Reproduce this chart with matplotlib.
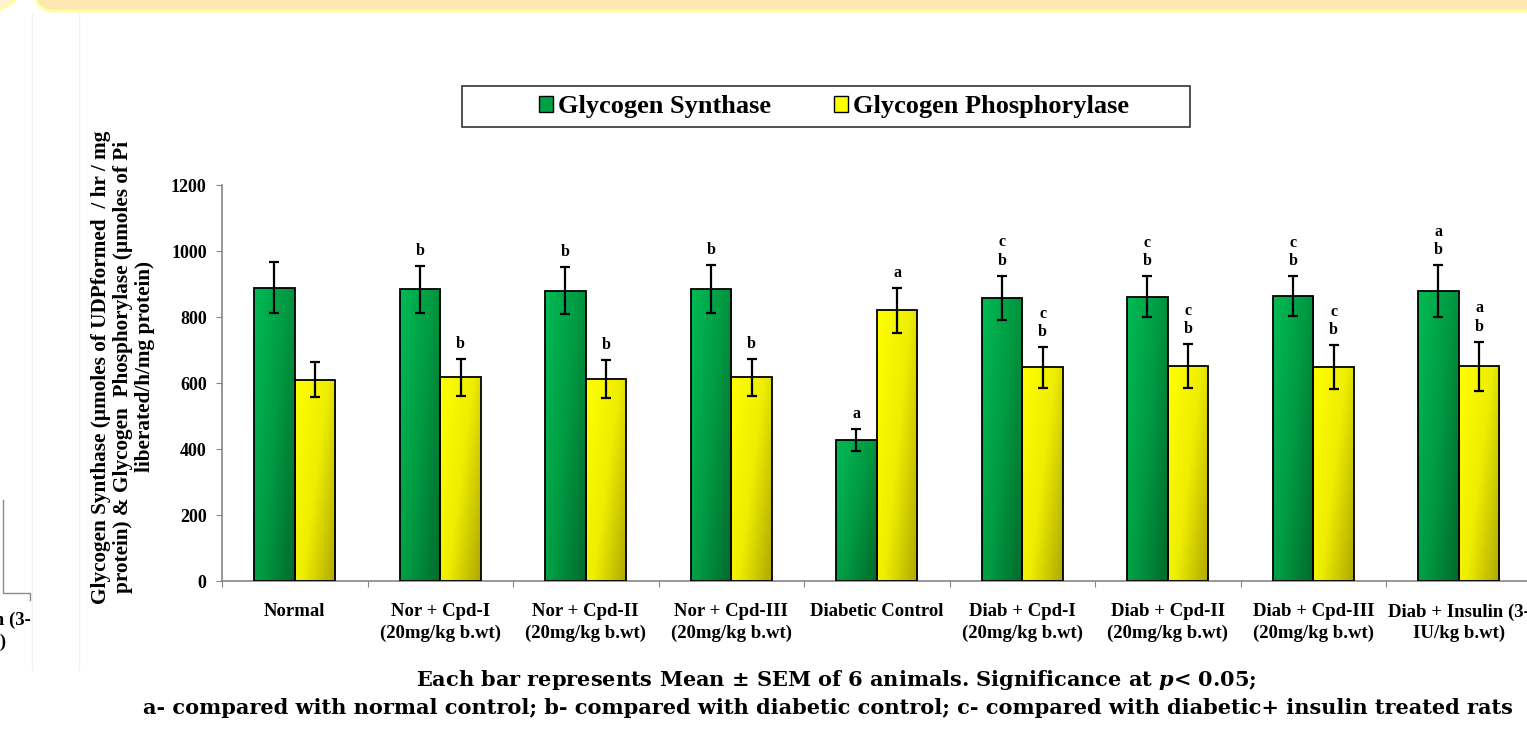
import numpy as np
import matplotlib
matplotlib.use("Agg")
import matplotlib.pyplot as plt
from matplotlib.colors import LinearSegmentedColormap
from matplotlib.patches import Rectangle, FancyBboxPatch, Patch, Circle

W, H = 1527, 746

groups = [
    "Normal",
    "Nor + Cpd-I\n(20mg/kg b.wt)",
    "Nor + Cpd-II\n(20mg/kg b.wt)",
    "Nor + Cpd-III\n(20mg/kg b.wt)",
    "Diabetic Control",
    "Diab + Cpd-I\n(20mg/kg b.wt)",
    "Diab + Cpd-II\n(20mg/kg b.wt)",
    "Diab + Cpd-III\n(20mg/kg b.wt)",
    "Diab + Insulin (3-\nIU/kg b.wt)",
]

synthase_mean = [889, 884, 880, 885, 427, 858, 861, 864, 879]
synthase_sem = [77, 72, 72, 72, 34, 67, 62, 60, 78]
phosphorylase_mean = [610, 617, 612, 618, 821, 647, 651, 648, 651]
phosphorylase_sem = [53, 56, 58, 56, 68, 62, 66, 66, 74]

synthase_sig = ["", "b", "b", "b", "a", "c\nb", "c\nb", "c\nb", "a\nb"]
phosphorylase_sig = ["", "b", "b", "b", "a", "c\nb", "c\nb", "c\nb", "a\nb"]

yticks = [0, 200, 400, 600, 800, 1000, 1200]

ylabel = ("Glycogen Synthase (\u00b5moles of UDPformed  / hr / mg\n"
          "protein) & Glycogen  Phosphorylase (\u00b5moles of Pi\n"
          "liberated/h/mg protein)")
note1 = "Each bar represents Mean \u00b1 SEM of 6 animals. Significance at $p$< 0.05;"
note2 = ("a- compared with normal control; b- compared with diabetic control; "
         "c- compared with diabetic+ insulin treated rats")

plt.rcParams["font.family"] = "Liberation Serif"
plt.rcParams["font.weight"] = "bold"
plt.rcParams["mathtext.fontset"] = "custom"
plt.rcParams["mathtext.rm"] = "DejaVu Serif:bold"
plt.rcParams["mathtext.it"] = "DejaVu Serif:italic:bold"

green_cmap = LinearSegmentedColormap.from_list("gr", ["#00bb55", "#009a42", "#006a2c"])
yellow_cmap = LinearSegmentedColormap.from_list("yl", ["#ffff00", "#eeee00", "#b0a800"])

fig = plt.figure(figsize=(W / 100, H / 100), dpi=100)
fig.patch.set_facecolor("white")

# slide decoration, drawn in pixel units
deco = fig.add_axes([0, 0, 1, 1], zorder=-1)
deco.set_xlim(0, W)
deco.set_ylim(H, 0)
deco.axis("off")
deco.add_patch(FancyBboxPatch((35, -40), 1600, 51,
                              boxstyle="round,pad=0,rounding_size=20",
                              fc="#ffe7b3", ec="#ffff99", lw=2))
deco.add_patch(Circle((-8, -20), 30, fc="#fff0d6", ec="#ffff99", lw=2))
for xp in (32, 79):
    deco.plot([xp, xp], [14, 670], color="#f2f2f2", lw=1)
# leftover of the neighbouring panel
deco.plot([3, 3, 30, 30], [500, 593, 593, 600], color="#8a8a8a", lw=1)
deco.text(-40, 612, groups[-1], ha="center", va="top",
          multialignment="center", fontsize=13.5, linespacing=1.3)

ax = fig.add_axes([222 / W, 1 - 581 / H, (1531.5 - 222) / W, (581 - 185) / H])
x = np.arange(len(groups))
bw = 0.28

bars_s = ax.bar(x - bw / 2, synthase_mean, bw, facecolor="none",
                edgecolor="black", linewidth=1.3, zorder=3)
bars_p = ax.bar(x + bw / 2, phosphorylase_mean, bw, facecolor="none",
                edgecolor="black", linewidth=1.3, zorder=3)

gx, gy = np.meshgrid(np.linspace(0, 1, 40), np.linspace(0, 1, 120))
shade = 0.6 * gx + 0.4 * (1 - gy)
for bars, cmap in ((bars_s, green_cmap), (bars_p, yellow_cmap)):
    for b in bars:
        im = ax.imshow(shade, cmap=cmap, vmin=0, vmax=1, origin="lower",
                       aspect="auto", zorder=2, interpolation="bilinear",
                       extent=(b.get_x(), b.get_x() + b.get_width(), 0, b.get_height()))
        im.set_clip_path(b)

ax.errorbar(x - bw / 2, synthase_mean, yerr=synthase_sem, fmt="none",
            ecolor="black", elinewidth=1.6, capsize=3.8, capthick=1.6, zorder=4)
ax.errorbar(x + bw / 2, phosphorylase_mean, yerr=phosphorylase_sem, fmt="none",
            ecolor="black", elinewidth=1.6, capsize=3.8, capthick=1.6, zorder=4)

for xs, means, sems, sig in ((x - bw / 2, synthase_mean, synthase_sem, synthase_sig),
                             (x + bw / 2, phosphorylase_mean, phosphorylase_sem, phosphorylase_sig)):
    for xi, m, s, t in zip(xs, means, sems, sig):
        if t:
            ax.annotate(t, (xi, m + s), xytext=(0, 5), textcoords="offset points",
                        ha="center", va="bottom", fontsize=11.5, linespacing=1.2)

ax.set_xlim(-0.5, len(groups) - 0.5)
ax.set_ylim(0, 1200)
ax.set_yticks(yticks)
ax.set_yticklabels([str(v) for v in yticks])
ax.set_xticks(np.arange(len(groups) + 1) - 0.5)
ax.set_xticklabels([])
ax.set_xticks(x, minor=True)
ax.set_xticklabels(groups, minor=True, fontsize=13.5, linespacing=1.3)
ax.tick_params(axis="x", which="major", length=4, color="#868686", direction="out")
ax.tick_params(axis="x", which="minor", length=0, pad=16)
ax.tick_params(axis="y", length=4, color="#868686", pad=7, labelsize=13)
for sp in ("top", "right"):
    ax.spines[sp].set_visible(False)
for sp in ("left", "bottom"):
    ax.spines[sp].set_color("#868686")
    ax.spines[sp].set_linewidth(1.2)

fig.text(123 / W, 1 - 367 / H, ylabel, rotation=90, ha="center", va="center",
         multialignment="center", fontsize=15.3, linespacing=1.13)

# legend in its own frame
fig.add_artist(Rectangle((462 / W, 1 - 127 / H), 728 / W, 41 / H,
                         transform=fig.transFigure, fill=False, ec="#333333", lw=1.2))
handles = [Patch(fc="#00a046", ec="black", lw=1), Patch(fc="#ffff00", ec="black", lw=1)]
fig.legend(handles, ["Glycogen Synthase", "Glycogen Phosphorylase"], ncol=2,
           loc="center", bbox_to_anchor=(834 / W, 1 - 107 / H), frameon=False,
           fontsize=19, handlelength=0.52, handleheight=0.52, handletextpad=0.2,
           columnspacing=2.4)

fig.text(836 / W, 1 - 680 / H, note1, ha="center", va="center",
         family="DejaVu Serif", fontsize=15)
fig.text(828 / W, 1 - 708 / H, note2, ha="center", va="center",
         family="DejaVu Serif", fontsize=15)

fig.savefig("out.png", dpi=100)
